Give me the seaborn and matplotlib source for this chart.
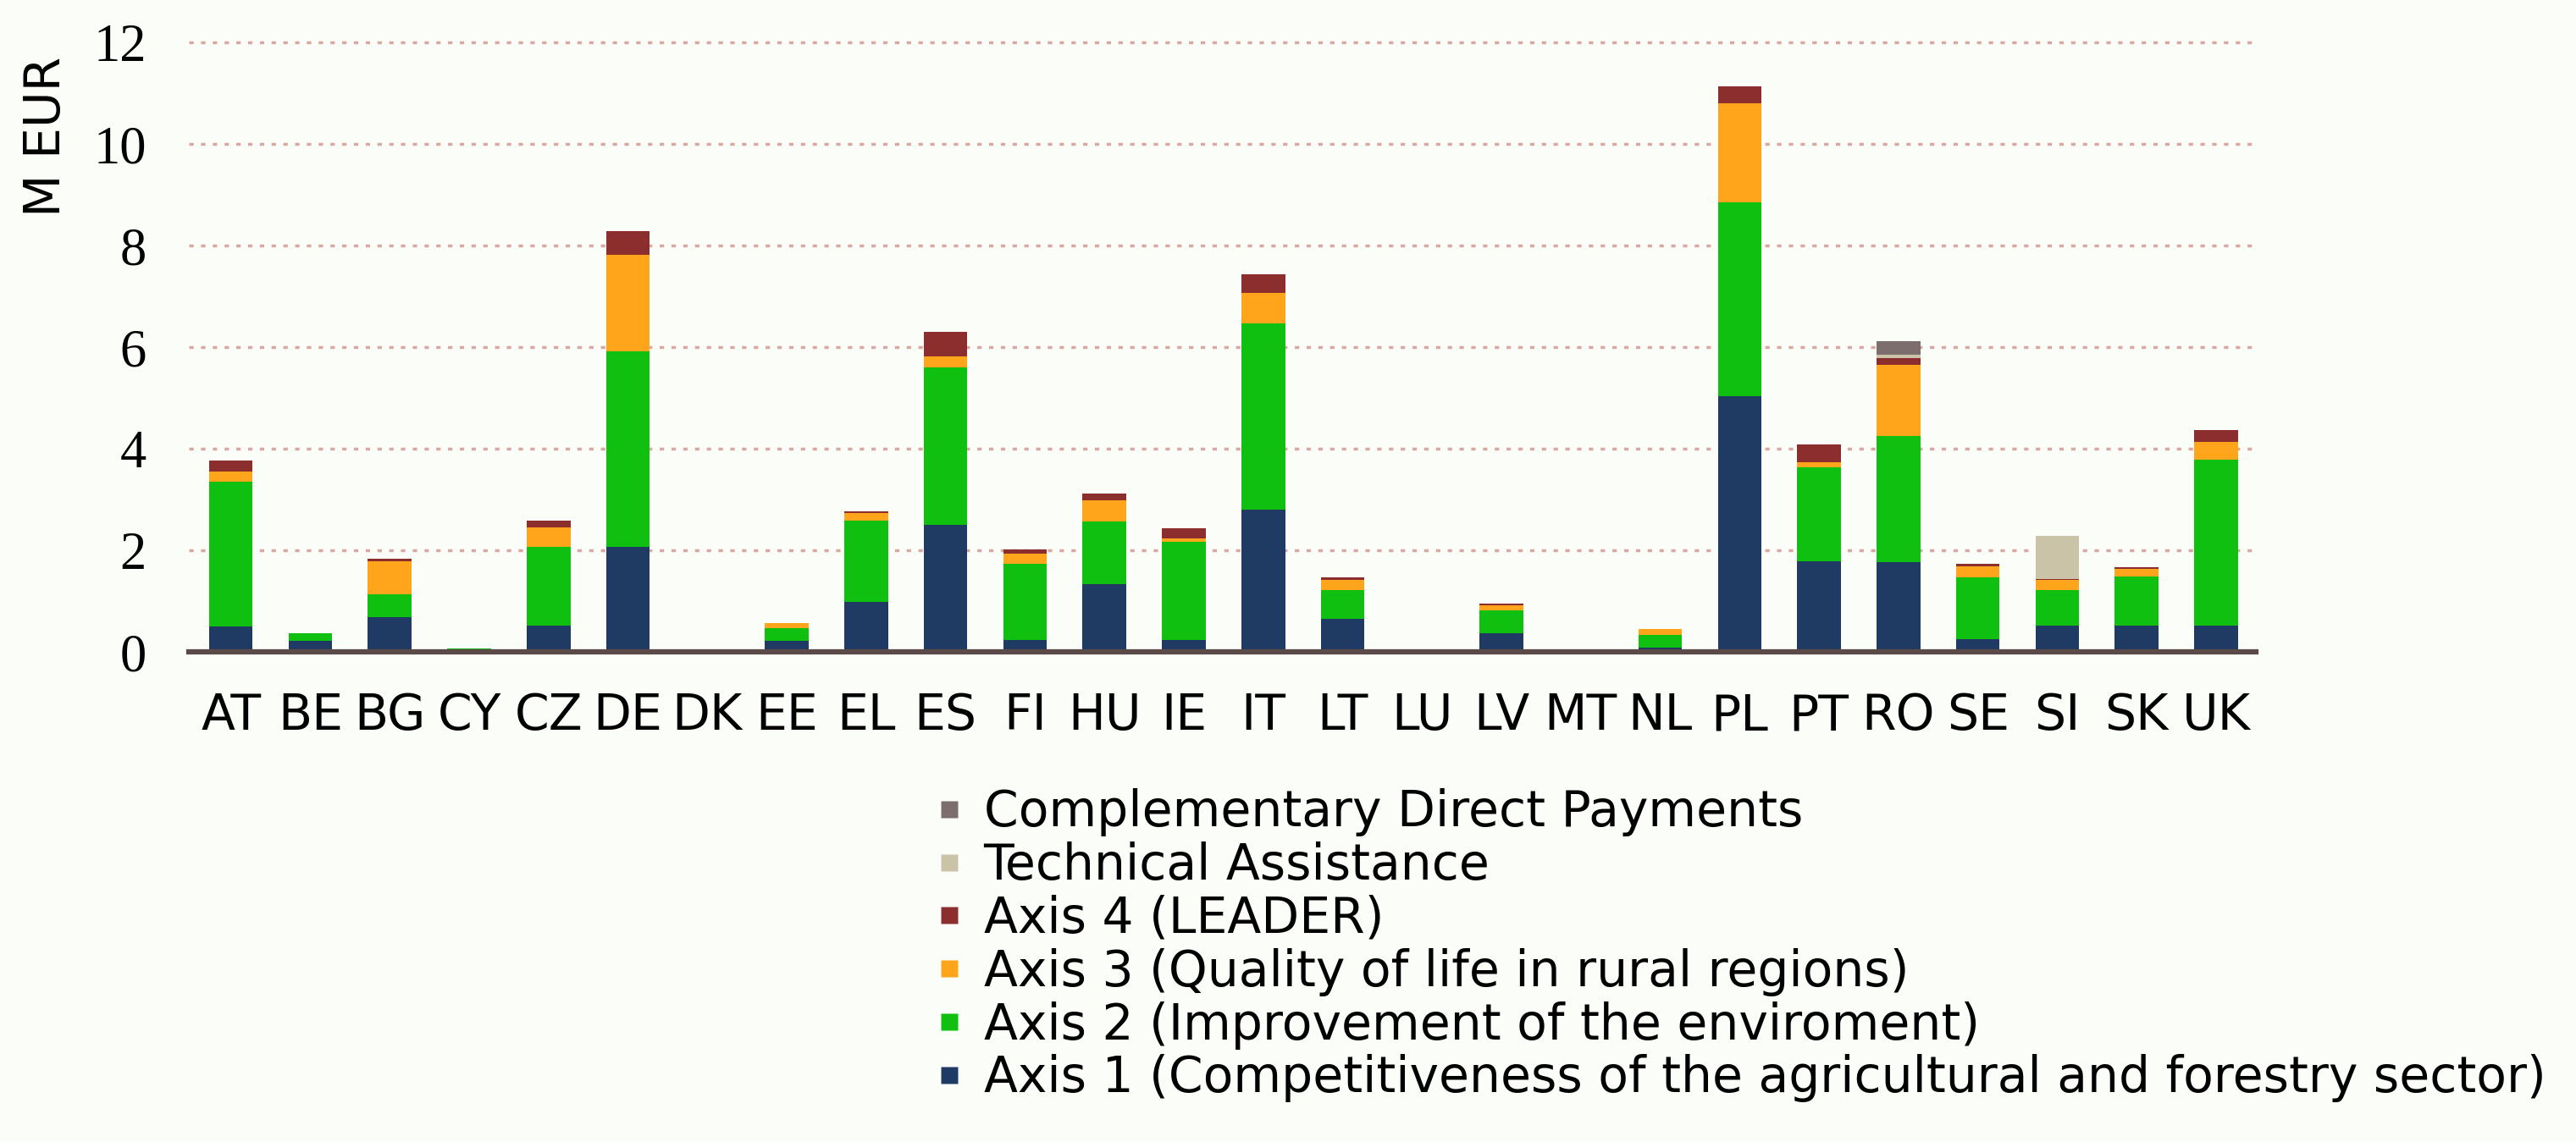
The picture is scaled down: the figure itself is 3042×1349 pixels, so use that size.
import numpy as np
import pandas as pd
import matplotlib
matplotlib.use("Agg")
import matplotlib.pyplot as plt
from matplotlib.lines import Line2D
import seaborn as sns

countries = ["AT", "BE", "BG", "CY", "CZ", "DE", "DK", "EE", "EL", "ES", "FI", "HU", "IE",
             "IT", "LT", "LU", "LV", "MT", "NL", "PL", "PT", "RO", "SE", "SI", "SK", "UK"]

axis1 = [0.50, 0.22, 0.68, 0.03, 0.52, 2.06, 0, 0.22, 0.98, 2.50, 0.23, 1.34, 0.23,
         2.80, 0.65, 0, 0.36, 0, 0.08, 5.04, 1.79, 1.76, 0.25, 0.52, 0.52, 0.52]
axis2 = [2.85, 0.15, 0.45, 0.04, 1.55, 3.86, 0, 0.25, 1.60, 3.10, 1.50, 1.23, 1.94,
         3.66, 0.57, 0, 0.45, 0, 0.25, 3.81, 1.84, 2.49, 1.21, 0.70, 0.97, 3.27]
axis3 = [0.20, 0, 0.65, 0, 0.38, 1.89, 0, 0.10, 0.15, 0.22, 0.20, 0.41, 0.07,
         0.61, 0.20, 0, 0.10, 0, 0.12, 1.95, 0.10, 1.40, 0.23, 0.20, 0.14, 0.34]
axis4 = [0.22, 0, 0.05, 0, 0.13, 0.47, 0, 0, 0.03, 0.48, 0.09, 0.13, 0.20,
         0.36, 0.05, 0, 0.04, 0, 0, 0.33, 0.35, 0.13, 0.04, 0.02, 0.03, 0.24]
tech_assist = [0, 0, 0, 0, 0, 0, 0, 0, 0, 0, 0, 0, 0,
               0, 0, 0, 0, 0, 0, 0, 0, 0.07, 0, 0.85, 0, 0]
compl_direct = [0, 0, 0, 0, 0, 0, 0, 0, 0, 0, 0, 0, 0,
                0, 0, 0, 0, 0, 0, 0, 0, 0.27, 0, 0, 0, 0]

series_names = ["Axis 1 (Competitiveness of the agricultural and forestry sector)",
                "Axis 2 (Improvement of the enviroment)",
                "Axis 3 (Quality of life in rural regions)",
                "Axis 4 (LEADER)",
                "Technical Assistance",
                "Complementary Direct Payments"]
series_colors = ["#1f3a63", "#10c010", "#ffa51c", "#8c2e2e", "#cbc3a8", "#7d6e6e"]
y_ticks = [0, 2, 4, 6, 8, 10, 12]

sns.set_theme(style="white")
plt.rcParams["font.family"] = ["DejaVu Sans"]
plt.rcParams["text.color"] = "black"
plt.rcParams["axes.labelcolor"] = "black"
plt.rcParams["xtick.color"] = "black"
plt.rcParams["ytick.color"] = "black"

df = pd.DataFrame({"country": countries})
layers = [axis1, axis2, axis3, axis4, tech_assist, compl_direct]
cum = np.cumsum(np.array(layers), axis=0)
for i, name in enumerate(series_names):
    df[name] = cum[i]

fig = plt.figure(figsize=(30.42, 13.49), dpi=100)
fig.patch.set_facecolor("#fbfdf9")
ax = fig.add_axes([0.0733, 0.4292, 0.8024, 0.5404])
ax.set_facecolor("#fbfdf9")

for val in y_ticks[1:]:
    ax.axhline(val, color="#d9a9a0", lw=2.5, ls=(0, (1.5, 2.5)), zorder=0)

# cumulative layers drawn top-down, each lower one covers the next
for i in range(len(series_names) - 1, -1, -1):
    sns.barplot(data=df, x="country", y=series_names[i], order=countries,
                color=series_colors[i], width=0.55, saturation=1, ax=ax,
                edgecolor="none", linewidth=0, zorder=2)

ax.set_xlim(-0.53, 25.5)
ax.set_ylim(0, 12.15)
ax.set_yticks(y_ticks)
ax.set_yticklabels([str(v) for v in y_ticks], family="Liberation Serif", fontsize=45)
ax.tick_params(axis="y", length=0, pad=36)
ax.tick_params(axis="x", length=0, pad=34, labelsize=42)
ax.set_xlabel("")
ax.set_ylabel("M EUR", fontsize=42, va="center")
ax.yaxis.set_label_coords(-0.069, 0.835)

for s in ["top", "right", "left"]:
    ax.spines[s].set_visible(False)
ax.spines["bottom"].set_color("#5b4a48")
ax.spines["bottom"].set_linewidth(4.5)
ax.spines["bottom"].set_zorder(3)

handles = [Line2D([0], [0], marker="s", ls="none", markersize=14,
                  markerfacecolor=series_colors[i], markeredgecolor="none",
                  label=series_names[i]) for i in range(len(series_names) - 1, -1, -1)]
fig.legend(handles=handles, loc="upper left", bbox_to_anchor=(0.355, 0.327),
           frameon=False, fontsize=42, handlelength=0.6, handletextpad=0.4,
           labelspacing=0.1, borderaxespad=0)

fig.savefig("out.png", dpi=100, facecolor=fig.get_facecolor())
